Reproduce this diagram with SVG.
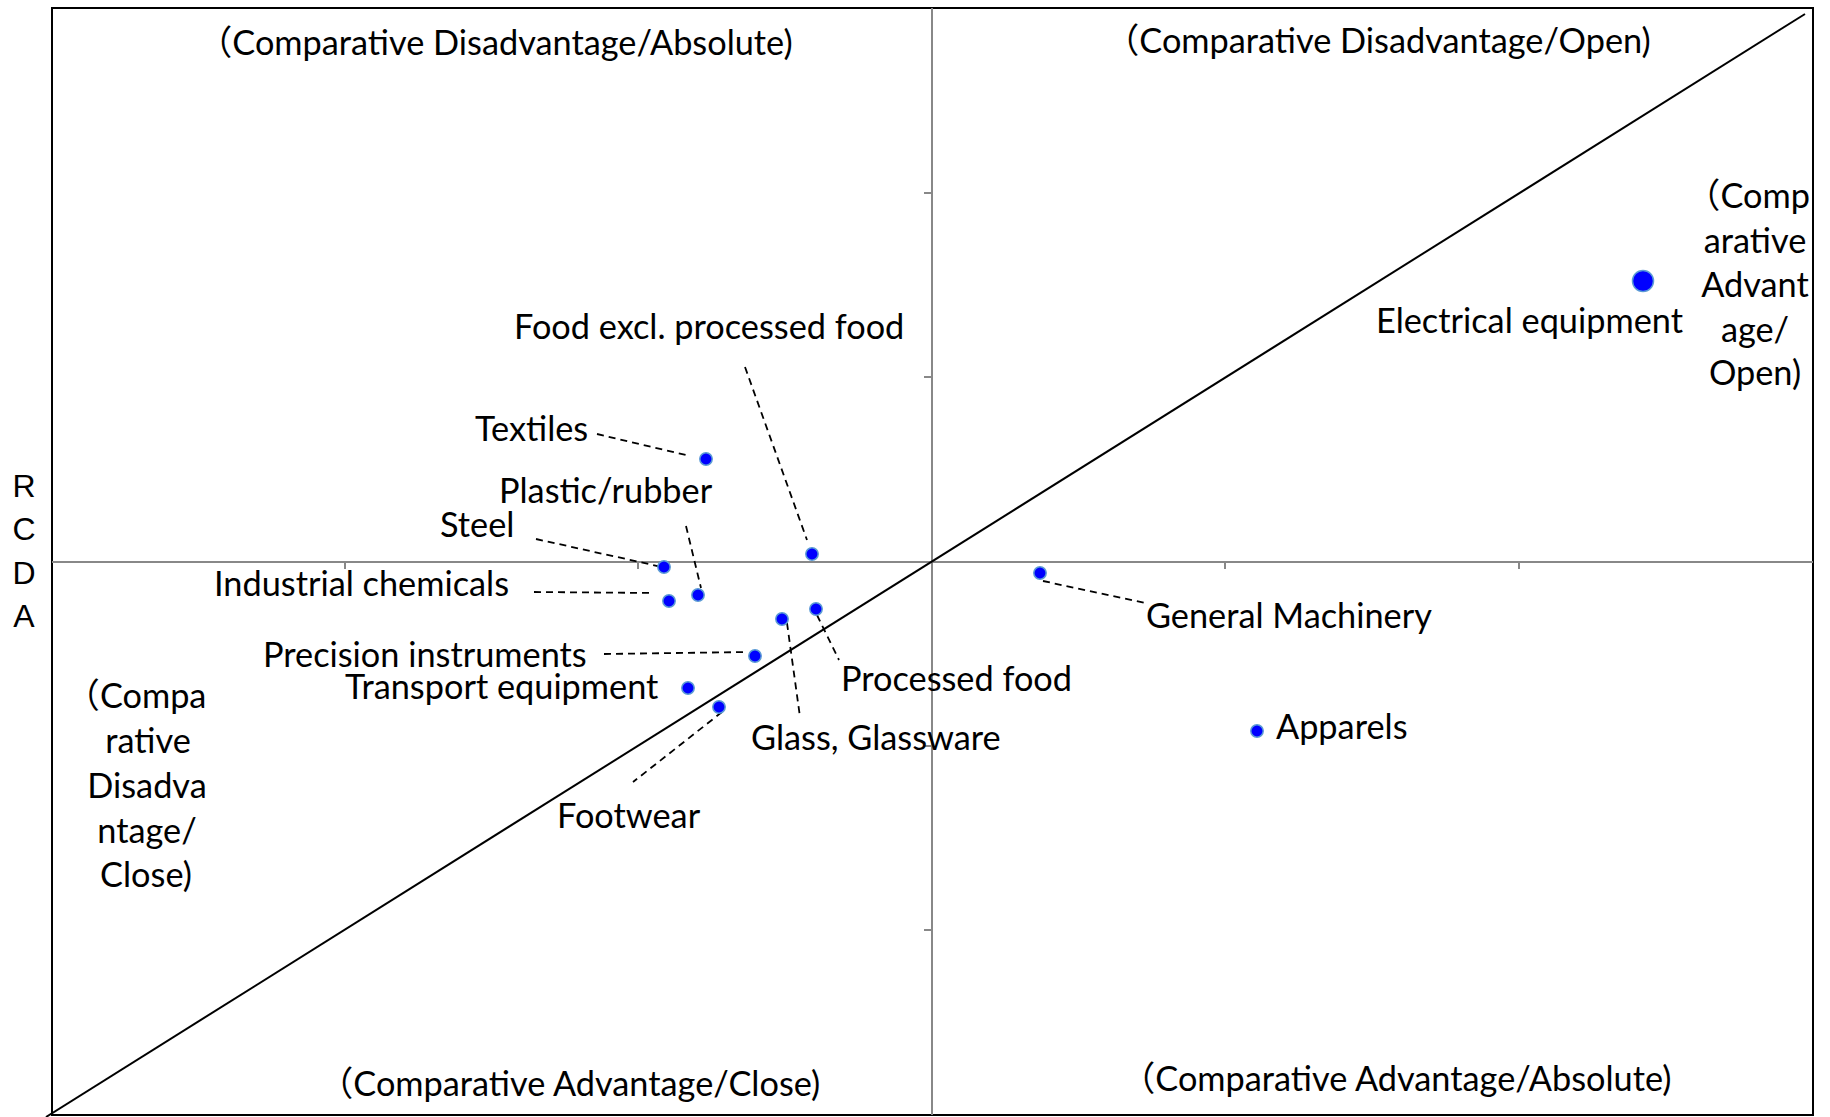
<svg xmlns="http://www.w3.org/2000/svg" width="1830" height="1117" viewBox="0 0 1830 1117">
<style>
.lbl{font-family:Lato,"Liberation Sans","Noto Sans CJK JP",sans-serif;font-size:34.3px;fill:#000}
.q{font-family:Lato,"Liberation Sans","Noto Sans CJK JP",sans-serif;font-size:34.3px;fill:#000}
.cjk{font-family:"Noto Sans CJK JP",sans-serif}
.ax{font-family:"Liberation Sans",Arial,sans-serif;font-size:32px;fill:#000;text-anchor:middle}
.dot{fill:#0000ff;stroke:#5b9bd5;stroke-width:1.5}
.lead{stroke:#000;stroke-width:1.8;stroke-dasharray:7 5;fill:none}
.axis{stroke:#888;stroke-width:2;fill:none}
</style>
<rect width="1830" height="1117" fill="#fff"/>
<g id="frame">
<rect x="52" y="8" width="1761" height="1107" fill="none" stroke="#000" stroke-width="2"/>
</g>
<g id="axes">
<line class="axis" x1="932" y1="8" x2="932" y2="1115"/>
<line class="axis" x1="52" y1="562" x2="1813" y2="562"/>
<path class="axis" d="M924 193H932M924 377H932M924 746H932M924 930H932M345 562V569M638 562V569M1225 562V569M1519 562V569"/>
</g>
<g id="diagonal">
<line x1="46" y1="1117" x2="1805" y2="14" stroke="#000" stroke-width="2"/>
</g>
<g id="axis-label">
<text class="ax" x="24" y="497">R</text>
<text class="ax" x="24" y="540">C</text>
<text class="ax" x="24" y="584">D</text>
<text class="ax" x="24" y="627">A</text>
</g>
<g id="quadrant-labels">
<text class="q" x="198" y="55"><tspan class="cjk">（</tspan>Comparative Disadvantage/Absolute)</text>
<text class="q" x="1105" y="53"><tspan class="cjk">（</tspan>Comparative Disadvantage/Open)</text>
<text class="q" x="319" y="1096"><tspan class="cjk">（</tspan>Comparative Advantage/Close)</text>
<text class="q" x="1121" y="1091"><tspan class="cjk">（</tspan>Comparative Advantage/Absolute)</text>
<text class="q" text-anchor="middle"><tspan x="1748" y="208"><tspan class="cjk">（</tspan>Comp</tspan><tspan x="1755" y="253">arative</tspan><tspan x="1755" y="297">Advant</tspan><tspan x="1755" y="342">age/</tspan><tspan x="1755" y="385">Open)</tspan></text>
<text class="q" text-anchor="middle"><tspan x="136" y="708"><tspan class="cjk">（</tspan>Compa</tspan><tspan x="148" y="753">rative</tspan><tspan x="147" y="798">Disadva</tspan><tspan x="147" y="843">ntage/</tspan><tspan x="146" y="887">Close)</tspan></text>
</g>
<g id="connectors">
<line class="lead" x1="597" y1="434" x2="686" y2="455"/>
<line class="lead" x1="745" y1="367" x2="807" y2="540"/>
<line class="lead" x1="536" y1="539" x2="662" y2="567"/>
<line class="lead" x1="686" y1="526" x2="701" y2="588"/>
<line class="lead" x1="534" y1="592" x2="653" y2="593"/>
<line class="lead" x1="604" y1="654" x2="748" y2="652"/>
<line class="lead" x1="787" y1="623" x2="800" y2="717"/>
<line class="lead" x1="817" y1="615" x2="839" y2="660"/>
<line class="lead" x1="722" y1="712" x2="633" y2="782"/>
<line class="lead" x1="1043" y1="581" x2="1145" y2="603"/>
</g>
<g id="n-electrical"><circle class="dot" cx="1643" cy="281" r="10.5"/><text class="lbl" x="1376" y="333">Electrical equipment</text></g>
<g id="n-textiles"><circle class="dot" cx="706" cy="459" r="6.2"/><text class="lbl" x="475" y="441">Textiles</text></g>
<g id="n-food-excl"><circle class="dot" cx="812" cy="554" r="6.2"/><text class="lbl" x="514" y="339">Food excl.  processed food</text></g>
<g id="n-steel"><circle class="dot" cx="664" cy="567" r="6.2"/><text class="lbl" x="440" y="537">Steel</text></g>
<g id="n-plastic"><circle class="dot" cx="698" cy="595" r="6.2"/><text class="lbl" x="499" y="503">Plastic/rubber</text></g>
<g id="n-chemicals"><circle class="dot" cx="669" cy="601" r="6.2"/><text class="lbl" x="214" y="596">Industrial chemicals</text></g>
<g id="n-glass"><circle class="dot" cx="782" cy="619" r="6.2"/><text class="lbl" x="751" y="750">Glass, Glassware</text></g>
<g id="n-processed"><circle class="dot" cx="816" cy="609" r="6.2"/><text class="lbl" x="841" y="691">Processed food</text></g>
<g id="n-precision"><circle class="dot" cx="755" cy="656" r="6.2"/><text class="lbl" x="263" y="667">Precision instruments</text></g>
<g id="n-transport"><circle class="dot" cx="688" cy="688" r="6.2"/><text class="lbl" x="345" y="699">Transport equipment</text></g>
<g id="n-footwear"><circle class="dot" cx="719" cy="707" r="6.2"/><text class="lbl" x="557" y="828">Footwear</text></g>
<g id="n-machinery"><circle class="dot" cx="1040" cy="573" r="6.2"/><text class="lbl" x="1146" y="628">General Machinery</text></g>
<g id="n-apparels"><circle class="dot" cx="1257" cy="731" r="6.2"/><text class="lbl" x="1276" y="739">Apparels</text></g>
</svg>
